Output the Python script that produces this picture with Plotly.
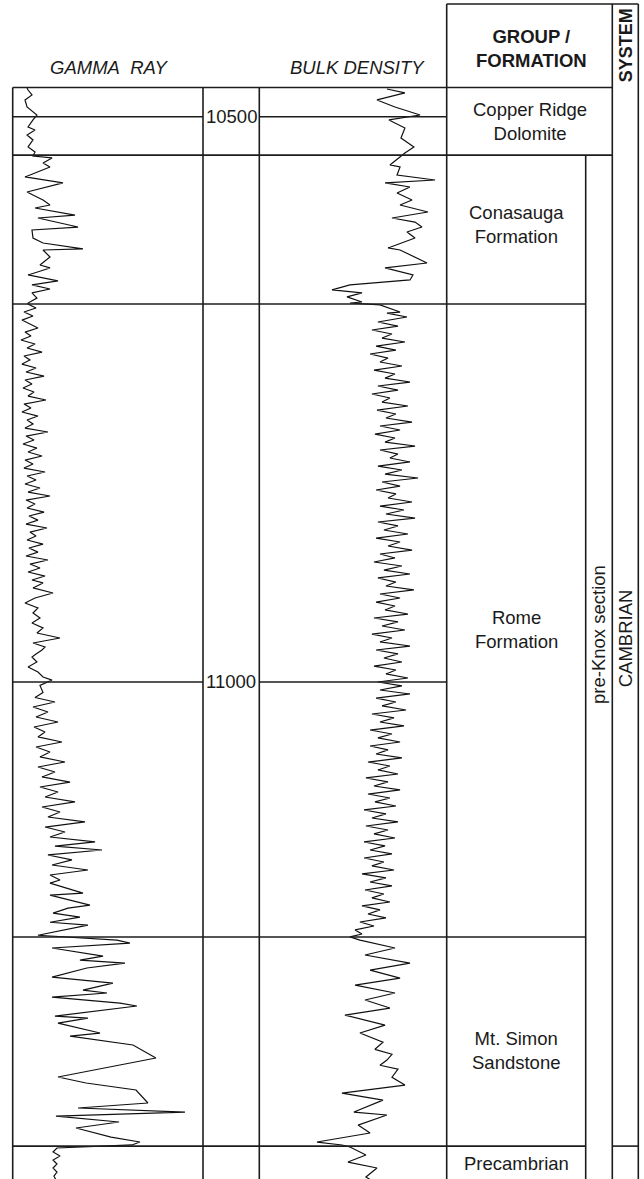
import plotly.graph_objects as go

# ---------------- data ----------------
# Gamma ray (API) vs depth (ft)
gr_depth = [10474.6, 10476.4, 10480.8, 10485.2, 10491.4, 10498.5, 10502.9, 10509.1, 10511.8, 10516.2,
            10520.6, 10526.8, 10531.2, 10534.8,
            10536.5, 10541.0, 10544.5, 10553.3, 10558.6, 10566.6, 10571.0, 10573.7, 10578.1, 10580.8,
            10587.0, 10589.6, 10597.6, 10600.2, 10607.3, 10611.7, 10617.0, 10617.9, 10624.1, 10631.2,
            10633.8, 10640.0, 10645.3, 10648.8, 10652.4, 10655.9, 10660.4, 10664.8,
            10665.7, 10669.2, 10672.8, 10676.3, 10679.9, 10683.4, 10686.9, 10690.5, 10694.0, 10697.5,
            10701.1, 10704.6, 10708.2, 10711.7, 10715.2, 10718.8, 10722.3, 10725.8, 10729.4, 10732.9,
            10736.5, 10740.0, 10743.5, 10747.1, 10750.6, 10754.2, 10757.7, 10761.2, 10764.8, 10768.3,
            10771.8, 10775.4, 10778.9, 10782.5, 10786.0, 10789.5, 10793.1, 10796.6, 10800.1, 10803.7,
            10807.2, 10810.8, 10814.3, 10817.8, 10821.4, 10824.9, 10828.4, 10832.0, 10835.5, 10839.1,
            10842.6, 10846.1, 10849.7, 10853.2, 10856.8, 10860.3, 10863.8, 10867.4, 10870.9, 10874.4,
            10878.0, 10881.5, 10885.1, 10888.6, 10892.1, 10895.7, 10899.2, 10902.7, 10906.3, 10909.8,
            10912.4, 10916.8, 10921.3, 10925.7, 10930.1, 10934.5, 10939.0, 10943.4, 10947.8, 10952.2,
            10956.7, 10961.1, 10965.5, 10969.0, 10971.7, 10975.2, 10977.9, 10982.3, 10986.7, 10991.2,
            10995.6, 10998.3, 11003.0, 11009.3, 11013.7,
            11017.7, 11022.1, 11026.5, 11031.0, 11035.4, 11039.8, 11044.2, 11048.6, 11053.1, 11057.5,
            11061.9, 11066.3, 11070.8, 11075.2, 11079.6, 11084.0, 11088.5, 11092.9, 11097.3, 11101.7,
            11106.1, 11110.6, 11115.0, 11119.4, 11123.8, 11128.3, 11132.7, 11137.1, 11141.5, 11145.1,
            11148.6, 11153.0, 11157.4, 11161.9, 11166.3, 11170.7, 11175.1,
            11177.9, 11186.7, 11188.5, 11197.4, 11200.0, 11204.5, 11208.0, 11212.5, 11215.1, 11224.0,
            11228.3, 11230.9, 11235.3, 11242.4, 11246.0, 11248.6, 11253.0, 11261.0, 11266.3, 11272.5,
            11275.1, 11278.7, 11284.0, 11286.6, 11295.5, 11297.3, 11301.7, 11310.5, 11313.2, 11321.1,
            11332.6, 11349.4, 11354.7, 11360.9, 11372.4, 11376.8, 11380.4, 11383.9, 11389.2, 11394.5,
            11402.5, 11406.9, 11409.5,
            11412.2, 11415.7, 11419.3, 11422.8, 11426.3, 11429.9, 11433.4, 11437.0, 11440.5]
gr_api = [11.3, 12.1, 15.2, 9.7, 11.3, 19.1, 16.0, 12.1, 17.6, 11.3,
          16.0, 12.1, 17.6, 16.0,
          31.0, 23.9, 29.4, 9.7, 39.6, 11.3, 19.1, 23.9, 29.4, 17.6,
          49.1, 19.9, 51.5, 15.2, 16.0, 23.9, 55.4, 23.9, 29.4, 21.5,
          29.4, 12.1, 35.7, 15.2, 29.4, 15.2, 19.1, 12.1,
          12.1, 18.4, 8.9, 16.0, 7.3, 13.6, 19.9, 9.7, 14.4, 6.5,
          17.6, 11.3, 23.1, 8.9, 13.6, 7.3, 18.4, 10.5, 24.7, 9.7,
          15.2, 8.1, 16.8, 12.1, 26.2, 8.9, 14.4, 7.3, 19.9, 11.3,
          16.0, 9.7, 27.8, 10.5, 16.8, 8.1, 19.1, 12.1, 23.1, 9.7,
          16.0, 8.9, 25.5, 11.3, 18.4, 9.7, 21.5, 12.1, 29.4, 10.5,
          17.6, 11.3, 24.7, 12.8, 19.9, 10.5, 27.0, 13.6, 18.4, 11.3,
          23.9, 12.8, 19.9, 10.5, 27.8, 13.6, 21.5, 12.1, 25.5, 15.2,
          23.9, 16.0, 31.8, 17.6, 9.7, 19.9, 16.0, 21.5, 15.2, 23.9,
          19.1, 37.3, 16.0, 25.5, 23.1, 18.4, 15.2, 19.1, 12.1, 19.9,
          23.9, 31.0, 21.5, 23.9, 17.6,
          33.3, 16.0, 27.8, 18.4, 35.7, 16.8, 25.5, 19.9, 38.8, 18.4,
          29.4, 21.5, 41.2, 19.9, 33.3, 23.1, 45.2, 21.5, 35.7, 25.5,
          49.1, 23.1, 37.3, 27.8, 57.0, 25.5, 41.2, 29.4, 64.9, 33.3,
          70.4, 27.8, 46.7, 31.0, 59.3, 29.4, 37.3,
          29.4, 55.4, 29.4, 60.9, 43.6, 31.8, 53.0, 29.4, 59.3, 19.9,
          82.2, 92.4, 31.0, 71.2, 53.0, 88.5, 58.5, 31.0, 79.0, 55.4,
          74.3, 31.0, 84.6, 97.9, 33.3, 59.3, 35.7, 68.8, 45.2, 94.8,
          112.9, 35.7, 57.8, 97.2, 106.6, 51.5, 135.8, 34.1, 83.8, 49.9,
          77.5, 100.3, 94.0,
          34.9, 31.8, 37.3, 31.8, 34.9, 31.8, 34.9, 32.5, 34.1]

# Bulk density (g/cc) vs depth (ft)
rhob_depth = [10475.5, 10479.0, 10485.2, 10491.4, 10498.5, 10502.9, 10510.0, 10518.8, 10526.8, 10532.1,
              10542.7, 10544.5, 10551.6, 10556.0, 10558.6, 10562.2, 10567.5, 10573.7, 10578.1, 10584.3,
              10589.6, 10593.2, 10597.6, 10602.0, 10607.3, 10616.1, 10617.9, 10626.7, 10629.4, 10633.8,
              10640.0, 10644.4, 10648.8, 10653.2, 10655.9, 10659.4, 10663.9, 10664.8,
              10666.5, 10672.8, 10673.7, 10677.2, 10681.6, 10685.2, 10688.7, 10692.2, 10695.8, 10699.3,
              10702.9, 10706.4, 10709.9, 10713.5, 10717.0, 10720.5, 10724.1, 10727.6, 10731.2, 10734.7,
              10738.2, 10741.8, 10745.3, 10748.8, 10752.4, 10755.9, 10759.5, 10763.0, 10766.5, 10770.1,
              10773.6, 10777.1, 10780.7, 10784.2, 10787.8, 10791.3, 10794.8, 10798.4, 10801.9, 10805.4,
              10809.0, 10812.5, 10816.1, 10819.6, 10823.1, 10826.7, 10830.2, 10833.7, 10837.3, 10840.8,
              10844.4, 10847.9, 10851.4, 10855.0, 10858.5, 10862.0, 10865.6, 10869.1, 10872.7, 10876.2,
              10879.7, 10883.3, 10886.8, 10890.3, 10893.9, 10897.4, 10901.0, 10904.5, 10908.0, 10911.6,
              10915.1, 10918.6, 10922.2, 10925.7, 10929.3, 10932.8, 10936.3, 10939.9, 10943.4, 10946.9,
              10950.5, 10954.0, 10957.6, 10961.1, 10964.6, 10968.2, 10971.7, 10975.2, 10978.8, 10982.3,
              10985.9, 10989.4, 10992.9, 10996.5, 11000.0, 11003.5, 11007.1, 11010.6, 11014.2, 11017.7,
              11021.2, 11024.8, 11028.3, 11031.8, 11035.4, 11038.9, 11042.5, 11046.0, 11049.5, 11053.1,
              11056.6, 11060.1, 11063.7, 11067.2, 11070.8, 11074.3, 11077.8, 11081.4, 11084.9, 11088.4,
              11092.0, 11095.5, 11099.1, 11102.6, 11106.1, 11109.7, 11113.2, 11116.7, 11120.3, 11123.8,
              11127.4, 11130.9, 11134.4, 11138.0, 11141.5, 11145.0, 11148.6, 11152.1, 11155.7, 11159.2,
              11162.7, 11166.3, 11169.8, 11173.3, 11176.9, 11180.4, 11184.0, 11187.5, 11191.0, 11194.6,
              11198.1, 11201.6, 11205.2, 11208.7, 11212.3, 11215.8, 11219.3, 11222.9, 11225.5,
              11228.3, 11235.3, 11241.5, 11248.6, 11254.8, 11261.9, 11268.1, 11275.1, 11281.3, 11288.4,
              11294.6, 11303.5, 11310.5, 11318.5, 11324.9, 11329.3, 11334.4, 11339.0, 11342.5, 11345.9,
              11349.6, 11356.5, 11363.6, 11369.8, 11380.4,
              11383.0, 11391.9, 11398.9, 11406.9, 11409.5,
              11411.3, 11418.4, 11424.6, 11429.9, 11437.8, 11441.0]
rhob = [2.631, 2.727, 2.578, 2.674, 2.808, 2.642, 2.727, 2.706, 2.775, 2.727,
        2.647, 2.701, 2.685, 2.888, 2.621, 2.754, 2.685, 2.765, 2.701, 2.850,
        2.658, 2.781, 2.818, 2.738, 2.781, 2.637, 2.701, 2.818, 2.845, 2.621,
        2.770, 2.754, 2.434, 2.338, 2.498, 2.418, 2.498, 2.434,
        2.594, 2.701, 2.631, 2.738, 2.583, 2.690, 2.551, 2.658, 2.605, 2.727,
        2.573, 2.679, 2.541, 2.637, 2.594, 2.711, 2.562, 2.674, 2.621, 2.754,
        2.583, 2.690, 2.551, 2.647, 2.605, 2.743, 2.578, 2.679, 2.626, 2.765,
        2.594, 2.701, 2.567, 2.674, 2.621, 2.781, 2.594, 2.690, 2.647, 2.754,
        2.583, 2.711, 2.621, 2.797, 2.605, 2.701, 2.573, 2.679, 2.637, 2.765,
        2.594, 2.722, 2.626, 2.781, 2.583, 2.690, 2.615, 2.743, 2.573, 2.701,
        2.637, 2.765, 2.594, 2.674, 2.562, 2.711, 2.615, 2.754, 2.583, 2.679,
        2.626, 2.775, 2.594, 2.701, 2.573, 2.674, 2.621, 2.743, 2.562, 2.690,
        2.605, 2.727, 2.551, 2.658, 2.594, 2.754, 2.573, 2.690, 2.615, 2.711,
        2.562, 2.679, 2.626, 2.743, 2.583, 2.711, 2.594, 2.754, 2.573, 2.679,
        2.605, 2.733, 2.551, 2.669, 2.594, 2.722, 2.541, 2.658, 2.583, 2.701,
        2.541, 2.637, 2.573, 2.711, 2.530, 2.647, 2.583, 2.690, 2.519, 2.637,
        2.562, 2.701, 2.530, 2.647, 2.567, 2.679, 2.509, 2.626, 2.551, 2.690,
        2.519, 2.637, 2.562, 2.674, 2.509, 2.621, 2.541, 2.658, 2.509, 2.615,
        2.551, 2.669, 2.498, 2.626, 2.541, 2.658, 2.514, 2.615, 2.551, 2.647,
        2.498, 2.594, 2.530, 2.626, 2.487, 2.562, 2.461, 2.498, 2.434,
        2.487, 2.674, 2.514, 2.754, 2.541, 2.701, 2.461, 2.674, 2.514, 2.647,
        2.407, 2.621, 2.487, 2.610, 2.567, 2.658, 2.631, 2.594, 2.690, 2.674,
        2.658, 2.727, 2.391, 2.610, 2.455,
        2.631, 2.477, 2.541, 2.258, 2.391,
        2.434, 2.519, 2.423, 2.578, 2.519, 2.550]

# Formations and depth ticks
formation_names = ["Copper Ridge<br>Dolomite", "Conasauga<br>Formation", "Rome<br>Formation",
                   "Mt. Simon<br>Sandstone", "Precambrian"]
formation_tops = [10474.2, 10534.0, 10665.7, 11225.5, 11410.5]
formation_bases = [10534.0, 10665.7, 11225.5, 11410.5, 11445.0]
depth_ticks = [10500, 11000]
system_name = "CAMBRIAN"
section_name = "pre-Knox section"

# ---------------- layout ----------------
W, H = 644, 1179
def px(v):
    return v / W
def py(v):
    return 1 - v / H

GR_L, GR_R, DEP_R, DEN_R, FM_R, PK_R, SYS_R = 12.7, 203.0, 259.3, 446.7, 585.7, 612.3, 638.3
HEAD_TOP = 4
LOG_TOP = formation_tops[0]
LOG_BOT = formation_bases[-1]
Y_TOP_DEPTH = 10396.8
Y_BOT_DEPTH = 11439.6
# vertical placement of the formation labels (depth of label centre)
LABEL_Y = [10504.3, 10595.8, 10954.0, 11325.5, 11426.3]
SECTION_LABEL_Y = 10958.4
SYSTEM_LABEL_Y = 10961.1

LINE = dict(color="#1c1c1c", width=1.6)
FONT = "Liberation Sans, Arial, sans-serif"

fig = go.Figure()
fig.add_trace(go.Scatter(x=gr_api, y=gr_depth, mode="lines", xaxis="x", yaxis="y",
                         line=dict(color="#111111", width=1.2), hoverinfo="skip"))
fig.add_trace(go.Scatter(x=rhob, y=rhob_depth, mode="lines", xaxis="x2", yaxis="y",
                         line=dict(color="#111111", width=1.2), hoverinfo="skip"))

shapes = []
def vline(x, y0, y1, yref="y"):
    shapes.append(dict(type="line", xref="paper", yref=yref, x0=px(x), x1=px(x), y0=y0, y1=y1, line=LINE))
def hline(d, x0, x1, yref="y"):
    shapes.append(dict(type="line", xref="paper", yref=yref, x0=px(x0), x1=px(x1), y0=d, y1=d, line=LINE))

# header box
shapes.append(dict(type="line", xref="paper", yref="paper", x0=px(DEN_R), x1=px(SYS_R),
                   y0=py(HEAD_TOP), y1=py(HEAD_TOP), line=LINE))
for x in (DEN_R, PK_R, SYS_R):
    shapes.append(dict(type="line", xref="paper", yref="paper", x0=px(x), x1=px(x),
                       y0=py(HEAD_TOP), y1=0, line=LINE))
for x in (GR_L, GR_R, DEP_R):
    vline(x, LOG_TOP, LOG_BOT)
vline(FM_R, formation_tops[1], LOG_BOT)

hline(LOG_TOP, GR_L, PK_R)
for d in depth_ticks:
    hline(d, GR_L, GR_R)
    hline(d, DEP_R, DEN_R)
for i, d in enumerate(formation_tops[1:], start=1):
    hline(d, GR_L, PK_R if i == 1 else FM_R)
hline(formation_tops[-1], PK_R, SYS_R)

ann = []
def text(x, y, s, size=18, yref="paper", **kw):
    d = dict(x=x, y=y, xref="paper", yref=yref, text=s, showarrow=False,
             font=dict(family=FONT, size=size, color="#1a1a1a"), xanchor="center", yanchor="middle")
    d.update(kw)
    ann.append(d)

text(px((GR_L + GR_R) / 2 + 1), py(67), "<i>GAMMA\u00a0\u00a0RAY</i>", size=18.5)
text(px((DEP_R + DEN_R) / 2 + 4), py(67), "<i>BULK DENSITY</i>", size=18.5)
text(px((DEN_R + PK_R) / 2 + 2), py(48), "<b>GROUP /</b><br><b>FORMATION</b>", size=18.5)
text(px((PK_R + SYS_R) / 2 + 1), py(45), "<b>SYSTEM</b>", size=18, textangle=-90)
for d in depth_ticks:
    text(px((GR_R + DEP_R) / 2), d, f"{d}", size=18.5, yref="y")
for i, (nm, yc) in enumerate(zip(formation_names, LABEL_Y)):
    right = PK_R if i == 0 else FM_R
    text(px((DEN_R + right) / 2), yc, nm, size=18.5, yref="y")
text(px((FM_R + PK_R) / 2), SECTION_LABEL_Y, section_name, size=18.5, yref="y", textangle=-90)
text(px((PK_R + SYS_R) / 2), SYSTEM_LABEL_Y, system_name, size=18.5, yref="y", textangle=-90)

fig.update_layout(
    width=W, height=H, margin=dict(l=0, r=0, t=0, b=0),
    paper_bgcolor="white", plot_bgcolor="white", showlegend=False,
    xaxis=dict(domain=[px(GR_L), px(GR_R)], range=[0, 150], visible=False, fixedrange=True),
    xaxis2=dict(domain=[px(DEP_R), px(DEN_R)], range=[1.95, 2.95], visible=False, anchor="y", fixedrange=True),
    yaxis=dict(domain=[0, 1], range=[Y_BOT_DEPTH, Y_TOP_DEPTH], visible=False, fixedrange=True),
    shapes=shapes, annotations=ann,
)
fig.write_html("out.html")
